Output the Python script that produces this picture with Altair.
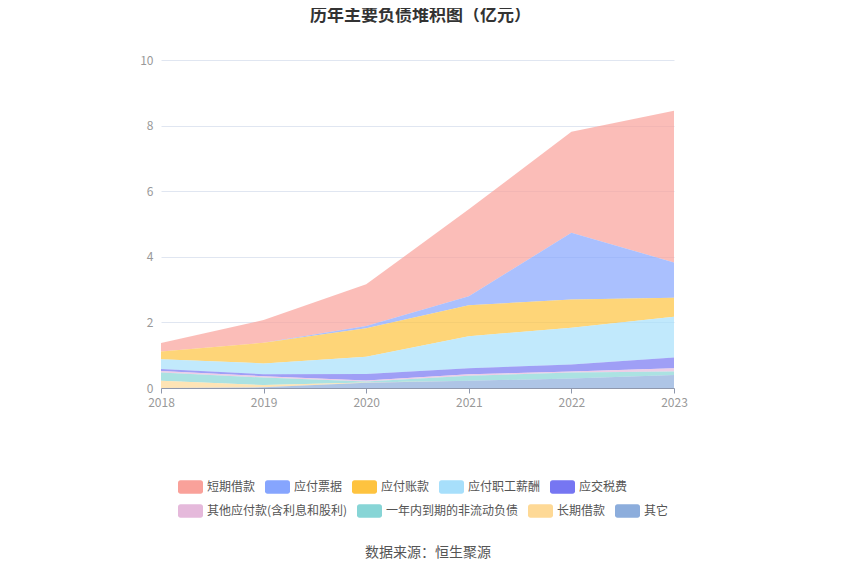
import altair as alt
import pandas as pd

years = [2018, 2019, 2020, 2021, 2022, 2023]
series_names = ["短期借款", "应付票据", "应付账款", "应付职工薪酬", "应交税费",
                "其他应付款(含利息和股利)", "一年内到期的非流动负债", "长期借款", "其它"]
colors = ["#f9a19a", "#86a5fe", "#fec33f", "#a7dffb", "#7676f2",
          "#e5b9db", "#87d5d6", "#fed996", "#8caddc"]

short_loans = [0.26, 0.69, 1.27, 2.65, 3.08, 4.62]
notes_payable = [0.00, 0.00, 0.07, 0.28, 2.03, 1.08]
accounts_payable = [0.23, 0.63, 0.87, 0.94, 0.86, 0.58]
salaries = [0.30, 0.33, 0.52, 0.98, 1.12, 1.24]
taxes = [0.06, 0.06, 0.20, 0.18, 0.22, 0.33]
other_payables = [0.05, 0.04, 0.03, 0.05, 0.03, 0.10]
current_noncurrent = [0.25, 0.23, 0.03, 0.15, 0.18, 0.10]
long_loans = [0.22, 0.07, 0.01, 0.00, 0.00, 0.00]
others = [0.00, 0.02, 0.16, 0.22, 0.29, 0.40]

values = [short_loans, notes_payable, accounts_payable, salaries, taxes,
          other_payables, current_noncurrent, long_loans, others]

rows = []
for i, (name, vals) in enumerate(zip(series_names, values)):
    for y, v in zip(years, vals):
        rows.append({"year": y, "name": name, "value": v, "ord": len(series_names) - i})
df = pd.DataFrame(rows)

legend_shape = ("M-0.8,-0.54 H0.8 A0.2,0.2 0 0 1 1,-0.34 V0.34 A0.2,0.2 0 0 1 0.8,0.54 "
                "H-0.8 A0.2,0.2 0 0 1 -1,0.34 V-0.34 A0.2,0.2 0 0 1 -0.8,-0.54 Z")

font = "Noto Sans CJK SC"

x_enc = alt.X("year:Q",
              scale=alt.Scale(domain=[2018, 2023], nice=False, zero=False),
              axis=alt.Axis(values=years, format="d", title=None, grid=False,
                            domainColor="#8f98ad", tickColor="#8f98ad", tickSize=5,
                            labelColor="#999999", labelFontSize=12, labelPadding=4,
                            labelFlush=False, labelFont=font))
y_enc = alt.Y("y1:Q",
              scale=alt.Scale(domain=[0, 10], nice=False),
              axis=alt.Axis(values=[0, 2, 4, 6, 8, 10], title=None, domain=False,
                            ticks=False, gridColor="#e0e6f1", labelColor="#999999",
                            labelFontSize=12, labelPadding=8, labelFont=font))


def legend_for(ypos, ncols):
    return alt.Legend(title=None, orient="none", legendX=17, legendY=ypos,
                      direction="horizontal", columns=ncols,
                      symbolType=legend_shape, symbolSize=625,
                      symbolOpacity=1, symbolStrokeWidth=0,
                      labelFontSize=12, labelColor="#555555",
                      labelFont=font, labelOffset=4,
                      columnPadding=9)


base = alt.Chart(df).transform_stack(
    stack="value", as_=["y0", "y1"], groupby=["year"],
    sort=[alt.SortField("ord", order="ascending")],
)

top_names = series_names[:5]
bottom_names = series_names[5:]

areas_top = base.transform_filter(alt.datum.ord >= 5).mark_area(
    opacity=0.7, interpolate="linear").encode(
    x=x_enc, y=y_enc, y2="y0:Q",
    color=alt.Color("name:N", scale=alt.Scale(domain=top_names, range=colors[:5]),
                    legend=legend_for(414, 5)),
)
areas_bottom = base.transform_filter(alt.datum.ord <= 4).mark_area(
    opacity=0.7, interpolate="linear").encode(
    x=x_enc, y=y_enc, y2="y0:Q",
    color=alt.Color("name:N", scale=alt.Scale(domain=bottom_names, range=colors[5:]),
                    legend=legend_for(438, 4)),
)

source = alt.Chart(pd.DataFrame({"t": ["数据来源：恒生聚源"]})).mark_text(
    fontSize=14, color="#555555", font=font, align="center", baseline="middle"
).encode(text="t:N", x=alt.value(267), y=alt.value(493))

chart = alt.layer(areas_top, areas_bottom, source).resolve_scale(
    color="independent"
).properties(
    width=513, height=328,
    title=alt.Title("历年主要负债堆积图（亿元）", fontSize=17, fontWeight="bold",
                    color="#333333", font=font, anchor="middle", offset=29, dx=3),
    autosize=alt.AutoSizeParams(type="none"),
    padding={"left": 153, "top": 52, "right": 168, "bottom": 179},
).configure_view(stroke=None)

chart.save("out.html", embed_options={"renderer": "svg", "actions": False})
